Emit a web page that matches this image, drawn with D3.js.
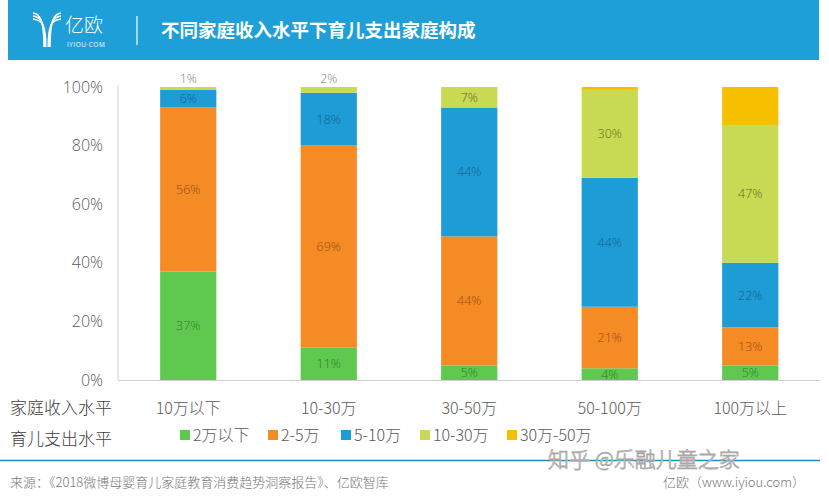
<!DOCTYPE html>
<html><head><meta charset="utf-8">
<script src="https://cdn.jsdelivr.net/npm/d3@7"></script>
<style>
body{margin:0;background:#fff;}
svg{display:block;font-family:"Open Sans","Noto Sans CJK SC",sans-serif;}
</style></head>
<body><svg id="c" width="829" height="500"></svg>
<script>
const categories = ["10万以下","10-30万","30-50万","50-100万","100万以上"];
const seriesNames = ["2万以下","2-5万","5-10万","10-30万","30万-50万"];
const s0 = [37, 11, 5, 4, 5];
const s1 = [56, 69, 44, 21, 13];
const s2 = [6, 18, 44, 44, 22];
const s3 = [1, 2, 7, 30, 47];
const s4 = [0, 0, 0, 1, 13];
const yTicks = [0, 20, 40, 60, 80, 100];
const colors = ["#5fc84f","#f48b24","#1e9cd6","#c8d953","#f6c000"];
const labelColors = ["#2f7d28","#9a4a12","#145f8a","#5e6a1c","#8a6a00"];
const title = "不同家庭收入水平下育儿支出家庭构成";
const source = "来源：《2018微博母婴育儿家庭教育消费趋势洞察报告》、亿欧智库";
const credit = "亿欧（www.iyiou.com）";
const watermark = "知乎 @乐融儿童之家";

const series = [s0,s1,s2,s3,s4];
const data = categories.map((c,i)=>{const o={cat:c}; seriesNames.forEach((n,k)=>o[n]=series[k][i]); return o;});
const stack = d3.stack().keys(seriesNames)(data);

const svg = d3.select("#c");
// header
svg.append("rect").attr("x",8).attr("y",0).attr("width",811).attr("height",60).attr("fill","#1f9fd7");
// logo
const lg = svg.append("g").attr("stroke","#fff").attr("fill","none").attr("stroke-width",1.5);
[0,3,6].forEach(o=>{
  lg.append("path").attr("d",`M33,${13+o} C${40+o*0.5},${14+o} ${44+o*0.3},${20+o} ${44+o*0.3},47`);
  lg.append("path").attr("d",`M61,${13+o} C${54-o*0.5},${14+o} ${50-o*0.3},${20+o} ${50-o*0.3},47`);
});
svg.append("text").attr("x",65).attr("y",32).attr("fill","#fff").attr("font-size",19)
  .attr("font-family","'Noto Sans CJK SC'").attr("font-weight",300).text("亿欧");
svg.append("text").attr("x",67).attr("y",47).attr("fill","#fff").attr("font-size",6.5).attr("letter-spacing",0.5).text("IYIOU·COM");
svg.append("line").attr("x1",137).attr("x2",137).attr("y1",16).attr("y2",45).attr("stroke","#fff").attr("stroke-width",1.2);
svg.append("text").attr("x",161).attr("y",37).attr("fill","#fff").attr("font-size",18.5).attr("font-weight",700)
  .attr("font-family","'Noto Sans CJK SC'").text(title);

// scales
const x = d3.scaleBand().domain(categories).range([118,820.5]).paddingInner(0.6).paddingOuter(0.3);
const y = d3.scaleLinear().domain([0,100]).range([380,87]);

// axes
const ya = svg.append("g").attr("transform","translate(118,0)")
  .call(d3.axisLeft(y).tickValues(yTicks).tickFormat(d=>d+"%").tickSize(0).tickPadding(15));
ya.select(".domain").attr("stroke","#d0d0d0").attr("d","M0,85V380");
ya.selectAll("text").attr("font-size",16).attr("fill","#595959").attr("font-family","'Open Sans',sans-serif").attr("font-weight",300);

svg.append("line").attr("x1",118).attr("x2",820).attr("y1",380.5).attr("y2",380.5).attr("stroke","#d0d0d0");

// bars
const g = svg.append("g");
stack.forEach((layer,k)=>{
  g.selectAll(null).data(layer).enter().append("rect")
    .attr("x",d=>x(d.data.cat)).attr("width",x.bandwidth())
    .attr("y",d=>y(d[1])).attr("height",d=>y(d[0])-y(d[1]))
    .attr("fill",colors[k]);
});
// labels
stack.forEach((layer,k)=>{
  layer.forEach(d=>{
    const v = d[1]-d[0];
    if(v<=0 || k===4) return;
    let ly, col = labelColors[k];
    if(v<3){
      if(k!==3 || d.data.cat==="50-100万") return;
      ly = y(d[1])-4; col="#808080";
    } else ly = (y(d[0])+y(d[1]))/2+4.5;
    svg.append("text").attr("x",x(d.data.cat)+x.bandwidth()/2).attr("y",ly)
      .attr("text-anchor","middle").attr("font-size",12.5).attr("fill",col).attr("font-weight",300)
      .text(v+"%");
  });
});
// category labels
svg.append("g").selectAll("text").data(categories).enter().append("text")
  .attr("x",d=>x(d)+x.bandwidth()/2).attr("y",414).attr("text-anchor","middle")
  .attr("font-size",16).attr("fill","#595959").attr("font-family","'Noto Sans CJK SC'").attr("font-weight",300).text(d=>d);
svg.append("text").attr("x",10).attr("y",414).attr("font-size",17).attr("fill","#404040")
  .attr("font-family","'Noto Sans CJK SC'").attr("font-weight",300).text("家庭收入水平");
svg.append("text").attr("x",10).attr("y",445).attr("font-size",17).attr("fill","#404040")
  .attr("font-family","'Noto Sans CJK SC'").attr("font-weight",300).text("育儿支出水平");

// legend
const legX = [180,268,341,420,507];
const leg = svg.append("g").selectAll("g").data(seriesNames).enter().append("g")
  .attr("transform",(d,i)=>`translate(${legX[i]},436)`);
leg.append("rect").attr("x",0).attr("y",-6).attr("width",10).attr("height",10).attr("fill",(d,i)=>colors[i]);
leg.append("text").attr("x",13).attr("y",5).attr("font-size",16).attr("fill","#595959")
  .attr("font-family","'Noto Sans CJK SC'").attr("font-weight",300).text(d=>d);

// footer
svg.append("line").attr("x1",0).attr("x2",820).attr("y1",460.5).attr("y2",460.5).attr("stroke","#1b8fc0").attr("stroke-width",1.5);
svg.append("text").attr("x",548).attr("y",467).attr("font-size",21).attr("fill","#fff").attr("stroke","#a8a8a8")
  .attr("stroke-width",0.8).attr("font-family","'Noto Sans CJK SC'").attr("font-weight",300).text(watermark);
svg.append("text").attr("x",10).attr("y",487).attr("font-size",13).attr("fill","#777")
  .attr("font-family","'Noto Sans CJK SC'").attr("font-weight",300).text(source);
svg.append("text").attr("x",805).attr("y",487).attr("text-anchor","end").attr("font-size",13).attr("fill","#777")
  .attr("font-family","'Noto Sans CJK SC'").attr("font-weight",300).text(credit);
</script></body></html>
